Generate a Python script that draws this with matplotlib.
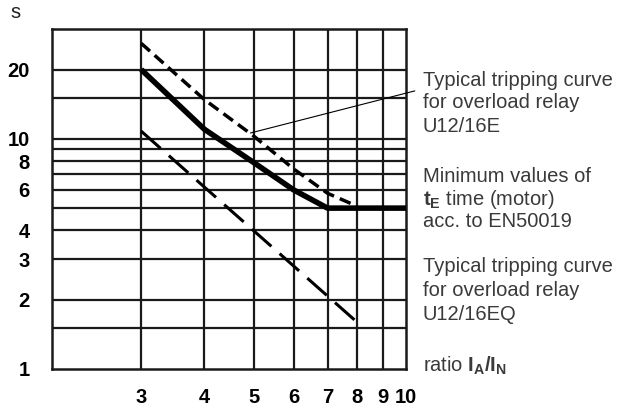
"""
Tripping curves of overload relays U12/16E and U12/16EQ vs. minimum t_E time
"""

import matplotlib
matplotlib.use("Agg")
import matplotlib.pyplot as plt
from matplotlib import rc

rc('font', **{'family': 'sans-serif', 'sans-serif': ['Liberation Sans', 'DejaVu Sans']})
rc('mathtext', fontset='custom', rm='Liberation Sans', bf='Liberation Sans:bold', it='Liberation Sans:italic')

# ratio I_A/I_N and time in s
x_e = [3, 4, 5, 6, 7, 8]
t_e = [26, 14.8, 10.3, 7.4, 5.8, 5.1]           # typical curve U12/16E (short dashes)

x_min = [3, 4, 5, 6, 7, 10]
t_min = [20, 11, 7.9, 6.0, 5.0, 5.0]            # minimum t_E (thick solid)

x_eq = [3, 8]
t_eq = [10.8, 1.6]                              # typical curve U12/16EQ (long dashes)

xgrid = [3, 4, 5, 6, 7, 8, 9]
ygrid = [1.5, 2, 3, 4, 5, 6, 7, 8, 9, 10, 15, 20]
xticks = [3, 4, 5, 6, 7, 8, 9, 10]
yticks = [1, 2, 3, 4, 6, 8, 10, 20]

fig = plt.figure(figsize=(6.24, 4.08), dpi=100)
ax = fig.add_axes([0.0833, 0.0956, 0.5673, 0.8333])
ax.set_xscale('log')
ax.set_yscale('log')
ax.set_xlim(2, 10)
ax.set_ylim(1, 30)

for xv in xgrid:
	ax.axvline(xv, color="#1a1a1a", lw=1.6, zorder=1)
for yv in ygrid:
	ax.axhline(yv, color="#1a1a1a", lw=1.6, zorder=1)

for sp in ax.spines.values():
	sp.set_linewidth(1.8)
	sp.set_color("#1a1a1a")

ax.plot(x_min, t_min, color="black", lw=4.0, solid_capstyle="butt", zorder=3)
ax.plot(x_e, t_e, color="black", lw=2.5, dashes=(3.4, 1.8), zorder=3)
ax.plot(x_eq, t_eq, color="black", lw=2.2, dashes=(8.5, 3.6), zorder=3)

ax.set_xticks(xticks)
ax.set_xticklabels([str(v) for v in xticks])
ax.set_yticks(yticks)
ax.set_yticklabels([str(v) for v in yticks])
ax.minorticks_off()
ax.tick_params(axis='both', length=0, labelsize=14.5)
ax.tick_params(axis='x', pad=14)
ax.tick_params(axis='y', pad=16)
for lab in ax.get_xticklabels() + ax.get_yticklabels():
	lab.set_fontweight('bold')

# leader line to the U12/16E label
ax.annotate("", xy=(4.93, 10.6), xycoords='data', xytext=(1.025, 0.818), textcoords='axes fraction',
	arrowprops=dict(arrowstyle='-', color='black', lw=0.8, shrinkA=0, shrinkB=0))

fig.text(15 / 624, 1 - 13 / 408, "s", fontsize=14.5, ha='center', va='center', color="#222222")

tx = 423 / 624
lines = [
	(80, "Typical tripping curve"),
	(103, "for overload relay"),
	(127, "U12/16E"),
	(177, "Minimum values of"),
	(199, r"$\mathbf{t_E}$ time (motor)"),
	(222, "acc. to EN50019"),
	(267, "Typical tripping curve"),
	(290, "for overload relay"),
	(314, "U12/16EQ"),
	(366, r"ratio $\mathbf{I_A/I_N}$"),
]
for ypix, txt in lines:
	fig.text(tx, 1 - ypix / 408, txt, fontsize=14.5, ha='left', va='center', color="#3a3a3a")

fig.savefig("out.png", dpi=100)
